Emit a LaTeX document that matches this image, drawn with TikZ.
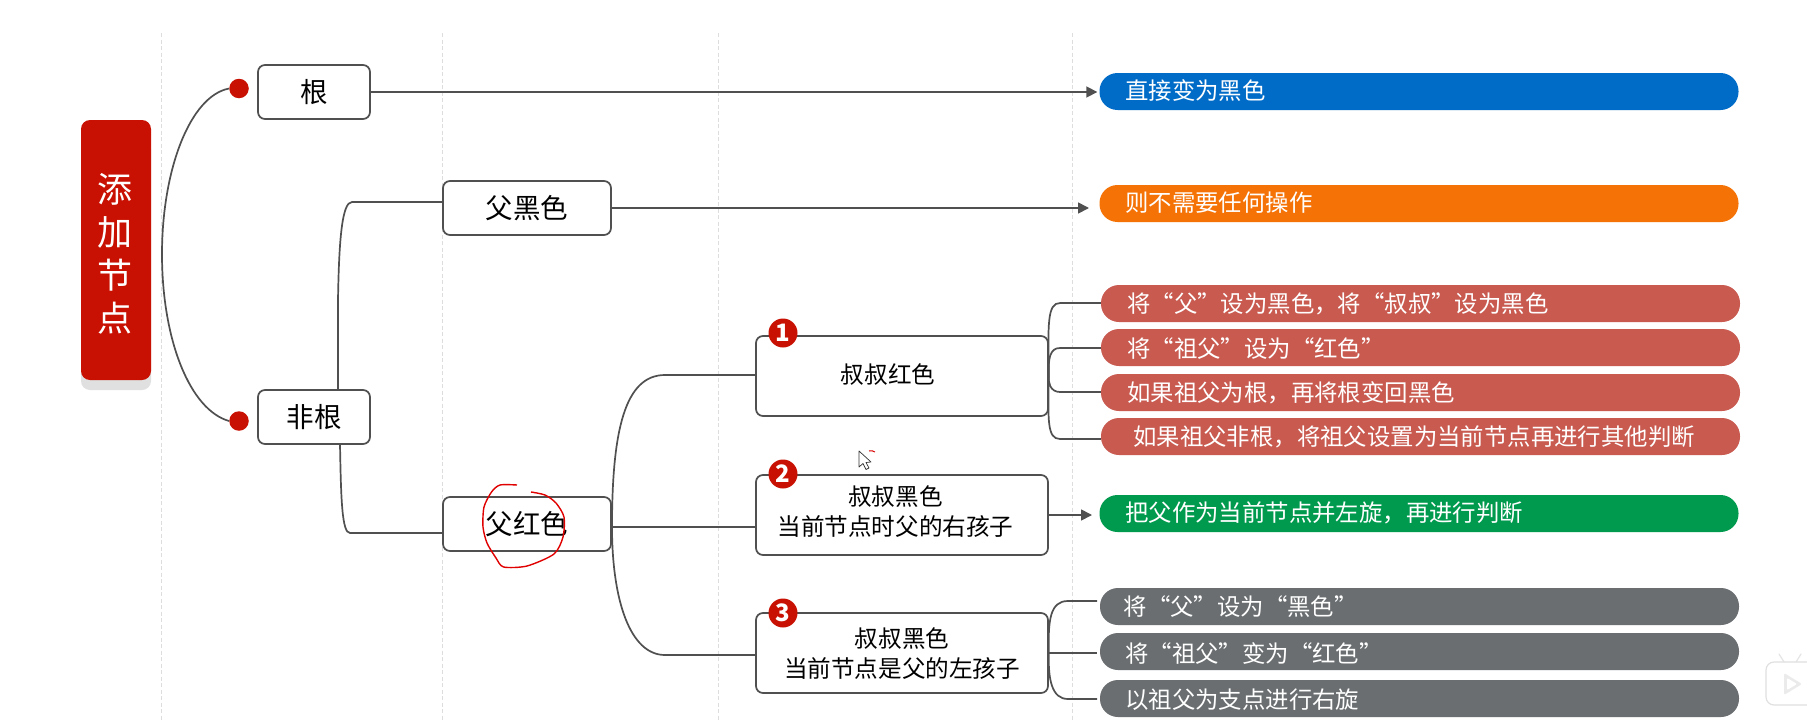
\documentclass[tikz,border=0pt]{standalone}
\usepackage{fontspec}
\setmainfont{Noto Sans CJK SC}
\usetikzlibrary{arrows.meta}
\definecolor{linec}{HTML}{505050}
\definecolor{rootred}{HTML}{C81102}
\definecolor{pillred}{HTML}{C85A50}
\definecolor{pillblue}{HTML}{006CC8}
\definecolor{pillorange}{HTML}{F57206}
\definecolor{pillgreen}{HTML}{009A4E}
\definecolor{pillgray}{HTML}{6A6E70}
\definecolor{guide}{HTML}{DDDDDD}
\tikzset{
  x=1pt,y=-1pt,
  conn/.style={draw=linec,line width=1.7pt},
  arrowconn/.style={conn,-{Triangle[length=11pt,width=11pt]},shorten >=2pt},
  guideline/.style={draw=guide,line width=1pt,dash pattern=on 4pt off 2.5pt},
  boxnode/.style={draw=linec,line width=1.7pt,fill=white,rounded corners=7pt,inner sep=0pt,align=center,font=\fontsize{23.6}{30}\selectfont},
  bigbox/.style={boxnode,font=\fontsize{27.5}{30}\selectfont},
  pillbox/.style={rounded corners=18pt,inner sep=0pt,minimum width=639pt,minimum height=37pt},
  pilltext/.style={anchor=west,inner sep=0pt,text=white,font=\fontsize{23.4}{28}\selectfont},
  dotnode/.style={circle,fill=rootred,minimum size=19.5pt,inner sep=0pt},
  badge/.style={circle,fill=rootred,minimum size=29pt,inner sep=0pt,text=white,font=\bfseries\fontsize{24}{24}\selectfont},
  roottext/.style={text=white,inner sep=0pt,font=\fontsize{35}{36}\selectfont},
}
\begin{document}
\begin{tikzpicture}
\useasboundingbox[fill=white] (0,0) rectangle (1807,720);
% guides
\draw[guideline] (161.5,33) -- (161.5,720);
\draw[guideline] (442.5,33) -- (442.5,720);
\draw[guideline] (718,33) -- (718,720);
\draw[guideline] (1072,33) -- (1072,720);
% root
\fill[fill=black!12,rounded corners=9pt] (81,140) rectangle (151,390);
\node[fill=rootred,rounded corners=9pt,minimum width=70pt,minimum height=260pt,inner sep=0pt] (root) at (116,250) {};
\node[roottext] (rt1) at (115,189) {添};
\node[roottext] (rt2) at (115,232) {加};
\node[roottext] (rt3) at (115,275) {节};
\node[roottext] (rt4) at (115,318) {点};
% dots
\node[dotnode] (d1) at (239,88.5) {};
\node[dotnode] (d2) at (239,421) {};
\coordinate (apex) at (162,254);
\draw[conn] (d1.west) .. controls (190,96) and (162,170) .. (apex) .. controls (162,340) and (190,410) .. (d2.west);
% level 1
\node[bigbox,minimum width=112pt,minimum height=54pt] (gen) at (314,92) {根};
\node[bigbox,minimum width=112pt,minimum height=54pt] (feigen) at (314,417) {非根};
% level 2
\node[bigbox,minimum width=168pt,minimum height=54pt] (fb) at (527,208) {父黑色};
\node[bigbox,minimum width=168pt,minimum height=54pt] (fr) at (527,524) {父红色};
% level 3
\node[boxnode,minimum width=292pt,minimum height=80pt] (b1) at (902,376) {};
\node[boxnode,minimum width=292pt,minimum height=80pt] (b2) at (902,515) {};
\node[boxnode,minimum width=292pt,minimum height=80pt] (b3) at (902,653) {};
\node[inner sep=0pt,font=\fontsize{23.6}{30}\selectfont] (t1) at (888,375) {叔叔红色};
\node[inner sep=0pt,align=center,font=\fontsize{23.6}{30}\selectfont] (t2) at (895.5,511.5) {叔叔黑色\\当前节点时父的右孩子};
\node[inner sep=0pt,align=center,font=\fontsize{23.6}{30}\selectfont] (t3) at (902,653.5) {叔叔黑色\\当前节点是父的左孩子};
\node[badge] (n1) at (783,333) {1};
\node[badge] (n2) at (783,474) {2};
\node[badge] (n3) at (783,613) {3};
% pills
\node[pillbox,fill=pillblue] (pblue) at (1419,91.5) {};
\node[pillbox,fill=pillorange] (porange) at (1419,203.5) {};
\node[pillbox,fill=pillred] (r1) at (1420.5,303.5) {};
\node[pillbox,fill=pillred] (r2) at (1420.5,347.5) {};
\node[pillbox,fill=pillred] (r3) at (1420.5,392.5) {};
\node[pillbox,fill=pillred] (r4) at (1420.5,436.5) {};
\node[pillbox,fill=pillgreen] (pg) at (1419,513.5) {};
\node[pillbox,fill=pillgray] (g1) at (1419.5,606.5) {};
\node[pillbox,fill=pillgray] (g2) at (1419.5,651.5) {};
\node[pillbox,fill=pillgray] (g3) at (1419.5,698.5) {};
\node[pilltext] (lblue) at (1125,91) {直接变为黑色};
\node[pilltext] (lorange) at (1125,203) {则不需要任何操作};
\node[pilltext] (l1) at (1127,303.5) {将“父”设为黑色，将“叔叔”设为黑色};
\node[pilltext] (l2) at (1127,348.5) {将“祖父”设为“红色”};
\node[pilltext] (l3) at (1127,392.5) {如果祖父为根，再将根变回黑色};
\node[pilltext] (l4) at (1133,436.5) {如果祖父非根，将祖父设置为当前节点再进行其他判断};
\node[pilltext] (lg) at (1125,512.5) {把父作为当前节点并左旋，再进行判断};
\node[pilltext] (lg1) at (1123.5,606.5) {将“父”设为“黑色”};
\node[pilltext] (lg2) at (1125,653.5) {将“祖父”变为“红色”};
\node[pilltext] (lg3) at (1125,700) {以祖父为支点进行右旋};
% connectors
\draw[arrowconn] (gen.east |- 0,92) -- (pblue.west |- 0,92);
\draw[arrowconn] (fb.east) -- (1091,208);
\coordinate (fbin) at (443,202);
\coordinate (frin) at (443,533);
\draw[conn] (338,390) -- (338,300) .. controls (339,240) and (342,202) .. (352,202) -- (fbin);
\draw[conn] (340,444) .. controls (341,500) and (342,533) .. (350,533) -- (frin);
\coordinate (frr) at (612,527);
\draw[conn] (frr) .. controls (612,430) and (625,375) .. (665,375) -- (b1.west |- 0,375);
\draw[conn] (frr) -- (b2.west |- 0,527);
\draw[conn] (frr) .. controls (612,600) and (630,655) .. (665,655) -- (b3.west |- 0,655);
\draw[conn] (b1.east) .. controls (1048,325) and (1047,303) .. (1060,303) -- (r1.west |- 0,303);
\draw[conn] (b1.east) .. controls (1048,358) and (1050,348) .. (1060,348) -- (r2.west |- 0,348);
\draw[conn] (b1.east) .. controls (1048,382) and (1050,392) .. (1060,392) -- (r3.west |- 0,392);
\draw[conn] (b1.east) .. controls (1048,420) and (1047,439) .. (1060,439) -- (r4.west |- 0,439);
\draw[arrowconn] (b2.east |- 0,515) -- (1094,515);
\draw[conn] (b3.east) .. controls (1048,620) and (1050,601) .. (1068,601) -- (1097,601);
\draw[conn] (b3.east) -- (1097,653);
\draw[conn] (b3.east) .. controls (1048,680) and (1052,699) .. (1068,699) -- (1097,699);
% scribble
\draw[red!88!black,line width=1.4pt,line join=round] plot[smooth,tension=0.45] coordinates {(517,485)(500,485)(491.5,492)(484,507)(483,527)(487,543)(496,558)(503.6,567)(527,566)(554,554)(563,537)(564,517)(556,503)(545,495)(531,492)};
% cursor
\draw[black!80,fill=white,line width=0.7pt,line join=round] (859,451) -- (859,467) -- (863,463.5) -- (866,469.5) -- (869,468) -- (866,462.5) -- (871,462) -- cycle;
\draw[red!85!black,line width=1pt] (869,451) .. controls (871,450.5) and (873,450.5) .. (875,452);
% watermark logo
\draw[black!10,line width=1.2pt,line cap=round] (1779,654) -- (1784,662);
\draw[black!10,line width=1.2pt,line cap=round] (1801,654) -- (1796,662);
\draw[black!12,fill=white,line width=1.2pt,rounded corners=8pt] (1812,662) -- (1766,662) -- (1766,705) -- (1812,705);
\fill[black!8,rounded corners=2pt] (1784,673) -- (1802,684) -- (1784,695) -- cycle;
\fill[white,rounded corners=1pt] (1787,678) -- (1797,684) -- (1787,690) -- cycle;
\end{tikzpicture}
\end{document}
